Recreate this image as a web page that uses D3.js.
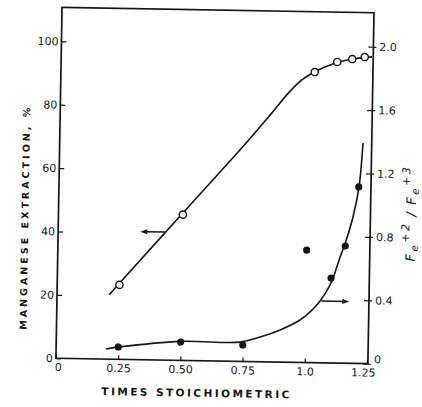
<!DOCTYPE html>
<html><head><meta charset="utf-8">
<script src="https://cdn.jsdelivr.net/npm/d3@7"></script>
<style>body{margin:0;background:#fff}svg{display:block}</style>
</head><body><svg id="c" width="422" height="407"></svg>
<script>
// ---- data ----
const xTicks = [0, 0.25, 0.5, 0.75, 1.0, 1.25];
const xTickLabels = ["0", "0.25", "0.50", "0.75", "1.0", "1.25"];
const leftTicks = [0, 20, 40, 60, 80, 100];
const rightTicks = [0, 0.4, 0.8, 1.2, 1.6, 2.0];
const rightTickLabels = ["0", "0.4", "0.8", "1.2", "1.6", "2.0"];
// Manganese extraction (%) – open circles
const mnX = [0.25, 0.50, 1.02, 1.11, 1.17, 1.22];
const mnY = [23.5, 46, 91.7, 95.0, 96.0, 96.7];
// Fitted Mn curve
const mnCurveX = [0.21, 0.25, 0.50, 0.75, 0.85, 0.92, 0.97, 1.02, 1.10, 1.17, 1.25];
const mnCurveY = [20.3, 24, 46.5, 69, 78.5, 85.3, 89.2, 91.8, 94.6, 96.0, 96.8];
// Fe+2/Fe+3 ratio – filled circles
const feX = [0.25, 0.50, 0.75, 1.00, 1.10, 1.155, 1.205];
const feY = [0.078, 0.116, 0.104, 0.71, 0.536, 0.74, 1.114];
// Fitted Fe curve
const feCurveX = [0.20, 0.25, 0.50, 0.739, 0.819, 0.899, 0.978, 1.03, 1.061, 1.092, 1.108, 1.135, 1.155, 1.184, 1.206, 1.219];
const feCurveY = [0.064, 0.077, 0.12, 0.122, 0.156, 0.203, 0.268, 0.339, 0.398, 0.479, 0.536, 0.67, 0.76, 0.924, 1.114, 1.392];
// Arrows (series pointer) [x0, x1, y]
const mnArrow = [0.43, 0.33, 40.4];
const feArrow = [1.063, 1.175, 0.39];

// ---- drawing ----
const svg = d3.select("#c");
const g = svg.append("g").attr("transform", "rotate(1,215,183)");
const ink = "#151515";
const L = 59, R = 370, T = 10, B = 361;
const x = d3.scaleLinear().domain([0, 1.25]).range([L, R]);
const yL = d3.scaleLinear().domain([0, 100]).range([B, 44]);
const yR = d3.scaleLinear().domain([0, 2]).range([B, 44]);

// frame
g.append("path").attr("d", `M${L},${B}L${L},${T}L${R + 1},${T}L${R + 1},${B}Z`)
  .attr("fill", "none").attr("stroke", ink).attr("stroke-width", 1.7);

const font = "'DejaVu Sans', sans-serif";
// left axis
const la = g.append("g").attr("transform", `translate(${L},0)`)
  .call(d3.axisLeft(yL).tickValues(leftTicks).tickSize(-5).tickPadding(3).tickFormat(d3.format("d")));
// bottom axis
const ba = g.append("g").attr("transform", `translate(0,${B})`)
  .call(d3.axisBottom(x).tickValues(xTicks).tickSize(-4).tickPadding(5).tickFormat((d, i) => xTickLabels[i]));
// right axis
const ra = g.append("g").attr("transform", `translate(${R + 1},0)`)
  .call(d3.axisRight(yR).tickValues(rightTicks).tickSize(3).tickPadding(3).tickFormat((d, i) => rightTickLabels[i]));
ra.selectAll(".tick").append("line").attr("x1", -5).attr("x2", 0).attr("stroke", ink).attr("stroke-width", 1.2);
[la, ba, ra].forEach(a => {
  a.select(".domain").remove();
  a.selectAll(".tick line").attr("stroke", ink).attr("stroke-width", 1.2);
  a.selectAll("text").attr("fill", ink).attr("font-family", font).attr("font-size", 11);
});
ba.selectAll(".tick").filter(d => d === 0).select("text").attr("dx", 2);
ba.selectAll(".tick").filter(d => d === 1.25).select("text").attr("dx", -4);
ra.selectAll(".tick").filter(d => d === 0).select("text").attr("dy", "-0.1em");

// curves
const lineL = d3.line().x(d => x(d[0])).y(d => yL(d[1])).curve(d3.curveCatmullRom.alpha(0.5));
const lineR = d3.line().x(d => x(d[0])).y(d => yR(d[1])).curve(d3.curveCatmullRom.alpha(0.5));
g.append("path").attr("d", lineL(d3.zip(mnCurveX, mnCurveY)))
  .attr("fill", "none").attr("stroke", ink).attr("stroke-width", 1.6);
g.append("path").attr("d", lineR(d3.zip(feCurveX, feCurveY)))
  .attr("fill", "none").attr("stroke", ink).attr("stroke-width", 1.6);

// markers
g.selectAll("circle.mn").data(d3.zip(mnX, mnY)).join("circle").attr("class", "mn")
  .attr("cx", d => x(d[0])).attr("cy", d => yL(d[1])).attr("r", 3.6)
  .attr("fill", "#fff").attr("stroke", ink).attr("stroke-width", 1.4);
g.selectAll("circle.fe").data(d3.zip(feX, feY)).join("circle").attr("class", "fe")
  .attr("cx", d => x(d[0])).attr("cy", d => yR(d[1])).attr("r", 3.6)
  .attr("fill", ink);

// arrows
function arrow(x0, x1, yy) {
  const dir = Math.sign(x1 - x0);
  g.append("line").attr("x1", x0).attr("x2", x1 - dir * 4).attr("y1", yy).attr("y2", yy)
    .attr("stroke", ink).attr("stroke-width", 1.5);
  g.append("path").attr("d", `M${x1},${yy}L${x1 - dir * 7},${yy - 2.5}L${x1 - dir * 7},${yy + 2.5}Z`).attr("fill", ink);
}
arrow(x(mnArrow[0]), x(mnArrow[1]), yL(mnArrow[2]));
arrow(x(feArrow[0]), x(feArrow[1]), yR(feArrow[2]));

// axis titles
g.append("text").attr("x", 105).attr("y", 397).attr("font-family", font).attr("font-weight", "bold")
  .attr("font-size", 10.5).attr("fill", ink).attr("textLength", 188).attr("lengthAdjust", "spacing")
  .text("TIMES STOICHIOMETRIC");
g.append("text").attr("transform", "translate(29,333) rotate(-90)").attr("font-family", font)
  .attr("font-weight", "bold").attr("font-size", 9.5).attr("fill", ink)
  .attr("textLength", 222).attr("lengthAdjust", "spacing").text("MANGANESE EXTRACTION, %");
const rt = g.append("text").attr("transform", "translate(416,258) rotate(-90)").attr("font-family", font)
  .attr("font-style", "italic").attr("font-size", 13).attr("letter-spacing", 2.5).attr("fill", ink);
rt.append("tspan").text("F");
rt.append("tspan").attr("font-size", 10).attr("dy", 3).text("e");
rt.append("tspan").attr("font-size", 11).attr("dy", -9).text("+2");
rt.append("tspan").attr("dy", 6).attr("dx", 5).text("/");
rt.append("tspan").attr("dx", 5).text("F");
rt.append("tspan").attr("font-size", 10).attr("dy", 3).text("e");
rt.append("tspan").attr("font-size", 11).attr("dy", -9).text("+3");
</script></body></html>
